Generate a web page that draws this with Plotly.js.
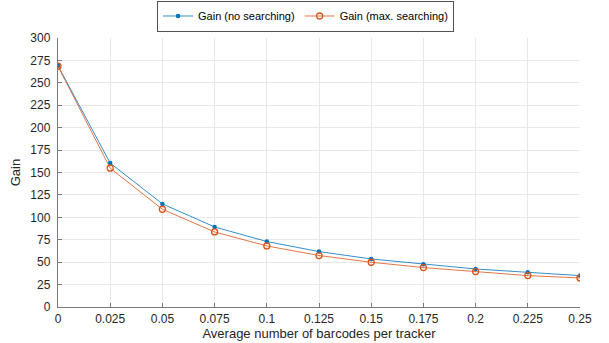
<!DOCTYPE html>
<html>
<head>
<meta charset="utf-8">
<script src="https://cdn.plot.ly/plotly-3.0.1.min.js"></script>
<style>html,body{margin:0;padding:0;background:#fff;}#chart{width:609px;height:343px;}</style>
</head>
<body>
<div id="chart"></div>
<script>
const xValues = [0, 0.025, 0.05, 0.075, 0.1, 0.125, 0.15, 0.175, 0.2, 0.225, 0.25];
const gainNoSearching = [269, 160.5, 115, 89.3, 73, 61.8, 53.6, 47.6, 42.4, 38.7, 35];
const gainMaxSearching = [268.5, 154.8, 109, 83.7, 68.1, 57.4, 49.9, 44, 39.5, 35, 32.4];
const xTickVals = [0, 0.025, 0.05, 0.075, 0.1, 0.125, 0.15, 0.175, 0.2, 0.225, 0.25];
const xTickText = ["0", "0.025", "0.05", "0.075", "0.1", "0.125", "0.15", "0.175", "0.2", "0.225", "0.25"];
const yTickVals = [0, 25, 50, 75, 100, 125, 150, 175, 200, 225, 250, 275, 300];
const seriesNames = ["Gain (no searching)", "Gain (max. searching)"];

const font = {family: "Liberation Sans, Arial, sans-serif", size: 12, color: "#262626"};

const traces = [
  {
    x: xValues, y: gainNoSearching, name: seriesNames[0], type: "scatter", mode: "lines+markers",
    line: {color: "#0072BD", width: 0.8},
    marker: {color: "#0072BD", size: 4.5, symbol: "circle"}
  },
  {
    x: xValues, y: gainMaxSearching, name: seriesNames[1], type: "scatter", mode: "lines+markers",
    line: {color: "#D95319", width: 0.8},
    marker: {color: "#D95319", size: 6, symbol: "circle-open", line: {color: "#D95319", width: 1.3}}
  }
];

const layout = {
  width: 609, height: 343,
  margin: {l: 58, r: 29, t: 38, b: 36, pad: 0},
  paper_bgcolor: "#fff", plot_bgcolor: "#fff",
  font: font,
  showlegend: true,
  legend: {
    orientation: "h", xref: "container", yref: "container",
    x: 0.502, y: 0.998, xanchor: "center", yanchor: "top",
    bordercolor: "#262626", borderwidth: 0.8, bgcolor: "#fff",
    font: {family: font.family, size: 11, color: "#000"},
    itemwidth: 30, tracegroupgap: 0
  },
  xaxis: {
    range: [0, 0.25], tickvals: xTickVals, ticktext: xTickText,
    showgrid: true, gridcolor: "#e8e8e8", gridwidth: 1,
    showline: true, linecolor: "#7a7a7a", linewidth: 1.2,
    ticks: "inside", ticklen: 4, tickcolor: "#7a7a7a",
    zeroline: false, tickfont: font,
    title: {text: "Average number of barcodes per tracker", font: {family: font.family, size: 13, color: "#262626"}, standoff: 2}
  },
  yaxis: {
    range: [0, 300], tickvals: yTickVals,
    showgrid: true, gridcolor: "#e8e8e8", gridwidth: 1,
    showline: true, linecolor: "#7a7a7a", linewidth: 1.2,
    ticks: "inside", ticklen: 4, tickcolor: "#7a7a7a",
    zeroline: false, tickfont: font, ticklabelstandoff: 4,
    title: {text: "Gain", font: {family: font.family, size: 13, color: "#262626"}, standoff: 6}
  }
};

Plotly.newPlot("chart", traces, layout, {displayModeBar: false, staticPlot: true});
</script>
</body>
</html>
